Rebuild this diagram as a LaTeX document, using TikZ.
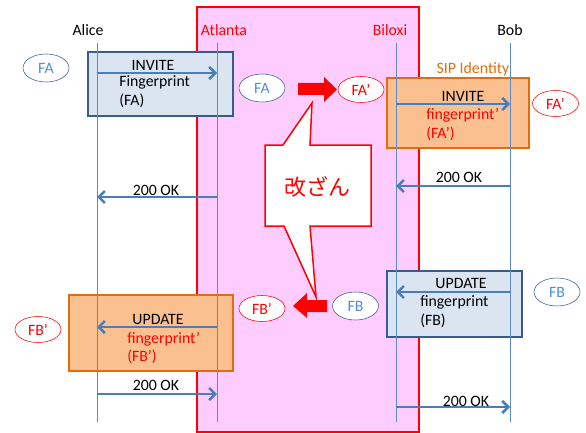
\documentclass[tikz,border=0pt]{standalone}
\usepackage{fontspec}
\setmainfont{Carlito}
\newfontfamily\jpfont{Noto Sans CJK JP}
\usetikzlibrary{arrows.meta,shapes.geometric}
\definecolor{pinkbg}{HTML}{FFCCFF}
\definecolor{lifeblue}{HTML}{5B8BC9}
\definecolor{msgblue}{HTML}{4A7EBB}
\definecolor{boxblue}{HTML}{385D8A}
\definecolor{boxfill}{HTML}{DBE5F1}
\definecolor{boxorange}{HTML}{E46C0A}
\definecolor{orangefill}{HTML}{FAC090}
\definecolor{fptext}{HTML}{558ED5}

\begin{document}
\begin{tikzpicture}[x=1pt,y=-1pt,line width=.55pt,
  every node/.style={font=\fontsize{15.8}{19}\selectfont,inner sep=0pt},
  lbl/.style={anchor=base},
  lft/.style={anchor=base west},
  lifeline/.style={draw=lifeblue,line width=.8pt},
  msg/.style={draw=msgblue,line width=2.6pt,-{Straight Barb[length=6pt,width=12pt]}},
  bluebox/.style={draw=boxblue,fill=boxfill,line width=1.6pt},
  orangebox/.style={draw=boxorange,fill=orangefill,line width=1.6pt},
  fpblue/.style={ellipse,draw=boxblue,fill=white,text=fptext,minimum width=46pt,minimum height=28pt},
  fpred/.style={ellipse,draw=red,fill=white,text=red,minimum width=46pt,minimum height=26pt}]
\useasboundingbox (0,0) rectangle (586,433);
% Atlanta / Biloxi area
\draw[red,fill=pinkbg,line width=1.3pt] (197,7) rectangle (419,432);
% message boxes
\draw[bluebox] (88,52) rectangle (233,116);
\draw[orangebox] (387,78) rectangle (529,148);
\draw[bluebox] (387,271) rectangle (522,337);
\draw[orangebox] (69,295) rectangle (233,371);
% lifelines
\foreach \n/\x in {alice/97,atl/217,bil/396,bob/510}{
  \coordinate (\n-t) at (\x,43);
  \coordinate (\n-b) at (\x,422);
  \draw[lifeline] (\n-t)--(\n-b);
}
\node[lbl] (alice) at (88,36) {Alice};
\node[lbl,text=red] (atl) at (224,36) {Atlanta};
\node[lbl,text=red] (bil) at (390,36) {Biloxi};
\node[lbl] (bob) at (510,36) {Bob};
\node[lbl,text=boxorange] (sipid) at (473,74) {SIP Identity};
% messages
\draw[msg] (alice-t |- 0,73)--(atl-t |- 0,73);
\draw[msg] (bil-t |- 0,104)--(bob-t |- 0,104);
\draw[msg] (bob-t |- 0,186)--(bil-t |- 0,186);
\draw[msg] (atl-t |- 0,197)--(alice-t |- 0,197);
\draw[msg] (bob-t |- 0,292)--(bil-t |- 0,292);
\draw[msg] (atl-t |- 0,327)--(alice-t |- 0,327);
\draw[msg] (alice-t |- 0,394)--(atl-t |- 0,394);
\draw[msg] (bil-t |- 0,407)--(bob-t |- 0,407);
% message texts
\node[lbl] (inv1) at (153,71) {INVITE};
\node[lft] (fp1) at (119,87) {Fingerprint};
\node[lft] (fa1) at (119,106) {(FA)};
\node[lbl] (inv2) at (463,102) {INVITE};
\node[lft,text=red] (fp2) at (426,120) {fingerprint’};
\node[lft,text=red] (fa2) at (426,139) {(FA’)};
\node[lbl] (ok1) at (459,182) {200 OK};
\node[lbl] (ok2) at (156,195) {200 OK};
\node[lbl] (upd1) at (461,288) {UPDATE};
\node[lft] (fp3) at (420,306) {fingerprint};
\node[lft] (fb1) at (420,325) {(FB)};
\node[lbl] (upd2) at (158,324) {UPDATE};
\node[lft,text=red] (fp4) at (127,343) {fingerprint’};
\node[lft,text=red] (fb2) at (127,361) {(FB’)};
\node[lbl] (ok3) at (156,390) {200 OK};
\node[lbl] (ok4) at (466,406) {200 OK};
% fingerprints
\node[fpblue] (faA) at (46,68) {FA};
\node[fpblue] (faAtl) at (262,88) {FA};
\node[fpred] (faBil) at (361,89.5) {FA’};
\node[fpred] (faBob) at (555.5,103.5) {FA’};
\node[fpblue] (fbBob) at (557,292) {FB};
\node[fpblue] (fbBil) at (355.5,306) {FB};
\node[fpred] (fbAtl) at (262,308.5) {FB’};
\node[fpred] (fbA) at (38,329.5) {FB’};
% tampering
\fill[red] (298,83)--(324,83)--(324,77)--(337,89.5)--(324,102)--(324,95)--(298,95)--cycle;
\fill[red] (327,300)--(307,300)--(307,293)--(293,306)--(307,318)--(307,312)--(327,312)--cycle;
\draw[red,fill=white,line width=1.5pt] (265,145)--(283,145)--(312,103)--(310,145)--(371,145)--(371,226)
  --(310,226)--(316,297)--(284,226)--(265,226)--cycle;
\node[text=red,font=\jpfont\fontsize{22}{24}\selectfont] (tamper) at (317,187) {改ざん};
\end{tikzpicture}
\end{document}
